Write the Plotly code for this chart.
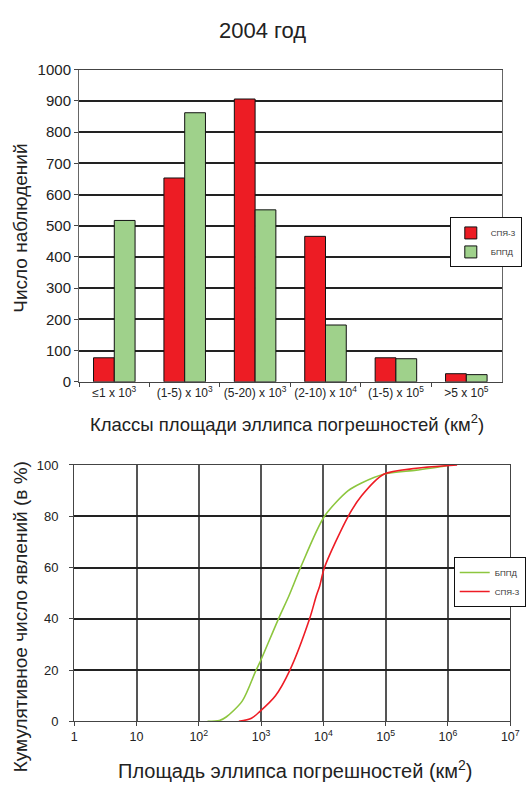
import plotly.graph_objects as go

# --- bar chart data: counts per error-ellipse area class ---
classes = ["≤1 x 10<sup>3</sup>", "(1-5) x 10<sup>3</sup>", "(5-20) x 10<sup>3</sup>",
           "(2-10) x 10<sup>4</sup>", "(1-5) x 10<sup>5</sup>", ">5 x 10<sup>5</sup>"]
spya3_counts = [77, 653, 906, 466, 77, 26]
bppd_counts = [517, 862, 551, 182, 74, 23]

# --- cumulative distribution data (area in km², cumulative %) ---
bppd_area = [138, 214, 275, 500, 830, 955, 1900, 2800, 4300, 10400, 25000, 41000, 93000, 310000, 890000, 1000000]
bppd_cum = [0, 0.3, 1.7, 8, 20, 23, 40, 49, 60, 80, 90, 93, 96.4, 98, 99.6, 100]
spya3_area = [440, 700, 950, 1700, 2900, 6000, 7700, 8700, 10400, 25000, 41000, 93000, 310000, 1400000]
spya3_cum = [0, 1.2, 3.8, 10, 20, 40, 49, 52.7, 60, 80, 88, 96.4, 98.7, 100]

x_ticks = [1, 10, 100, 1e3, 1e4, 1e5, 1e6, 1e7]
x_ticktext = ["1", "10", "10<sup>2</sup>", "10<sup>3</sup>", "10<sup>4</sup>",
              "10<sup>5</sup>", "10<sup>6</sup>", "10<sup>7</sup>"]

RED = "#ED1C24"
GREEN = "#9FD18B"
LINE_GREEN = "#8DC63F"
LINE_RED = "#EE1C25"
FONT = "Arial, Liberation Sans, sans-serif"
TXT = "#222"
W, H = 532, 792

fig = go.Figure()

fig.add_trace(go.Bar(x=classes, y=spya3_counts, name="СПЯ-3",
                     marker=dict(color=RED, line=dict(color="#111", width=1)),
                     xaxis="x", yaxis="y", legend="legend"))
fig.add_trace(go.Bar(x=classes, y=bppd_counts, name="БППД",
                     marker=dict(color=GREEN, line=dict(color="#111", width=1)),
                     xaxis="x", yaxis="y", legend="legend"))

fig.add_trace(go.Scatter(x=bppd_area, y=bppd_cum, name="БППД", mode="lines",
                         line=dict(color=LINE_GREEN, width=1.6, shape="spline", smoothing=0.8),
                         xaxis="x2", yaxis="y2", legend="legend2"))
fig.add_trace(go.Scatter(x=spya3_area, y=spya3_cum, name="СПЯ-3", mode="lines",
                         line=dict(color=LINE_RED, width=1.6, shape="spline", smoothing=0.8),
                         xaxis="x2", yaxis="y2", legend="legend2"))


def px_x(a, b):
    return [a / W, b / W]


def px_y(top, bottom):
    return [1 - bottom / H, 1 - top / H]


fig.update_layout(
    width=W, height=H,
    margin=dict(l=0, r=0, t=0, b=0),
    paper_bgcolor="white", plot_bgcolor="white",
    font=dict(family=FONT, color=TXT),
    barmode="group", bargap=0.41, bargroupgap=0,
    showlegend=True,
    xaxis=dict(domain=px_x(78, 511), anchor="y", type="category",
               tickson="boundaries", ticks="outside", ticklen=4, tickcolor="#444",
               tickangle=0,
               showline=True, linecolor="#444", linewidth=1.2, mirror=True,
               showgrid=False, tickfont=dict(family=FONT, size=12, color=TXT)),
    yaxis=dict(domain=px_y(62, 381), anchor="x", range=[0, 1000], dtick=100,
               ticks="outside", ticklen=4, tickcolor="#444",
               showline=True, linecolor="#666", linewidth=1.2, mirror=True,
               showgrid=True, gridcolor="#222", gridwidth=1.5, zeroline=False,
               tickfont=dict(family=FONT, size=15, color=TXT)),
    xaxis2=dict(domain=px_x(73, 520), anchor="y2", type="log", range=[0, 7],
                tickvals=x_ticks, ticktext=x_ticktext, tickangle=0,
                ticks="outside", ticklen=4, tickcolor="#444",
                showline=True, linecolor="#444", linewidth=1.2, mirror=True,
                showgrid=True, gridcolor="#555", gridwidth=1.5,
                tickfont=dict(family=FONT, size=12.5, color=TXT)),
    yaxis2=dict(domain=px_y(466, 728), anchor="x2", range=[0, 100], dtick=20,
                ticks="outside", ticklen=4, tickcolor="#444", ticklabelstandoff=8,
                showline=True, linecolor="#444", linewidth=1.2, mirror=True,
                showgrid=True, gridcolor="#222", gridwidth=1.5, zeroline=False,
                tickfont=dict(family=FONT, size=13, color=TXT)),
    legend=dict(x=458 / W, y=1 - 213 / H, xanchor="left", yanchor="top",
                bgcolor="white", bordercolor="#111", borderwidth=1,
                font=dict(family=FONT, size=8, color="#333"),
                itemwidth=30, tracegroupgap=0),
    legend2=dict(x=462 / W, y=1 - 560 / H, xanchor="left", yanchor="top",
                 bgcolor="white", bordercolor="#111", borderwidth=1,
                 font=dict(family=FONT, size=8, color="#333"),
                 itemwidth=30, tracegroupgap=0),
)

ann = [
    dict(text="2004 год", x=266 / W, y=1 - 22 / H, font=dict(size=22)),
    dict(text="Число наблюдений", x=18 / W, y=1 - 224 / H, textangle=-90, font=dict(size=19)),
    dict(text="Классы площади эллипса погрешностей (км<sup>2</sup>)", x=291 / W, y=1 - 423 / H,
         font=dict(size=18.5)),
    dict(text="Кумулятивное число явлений (в %)", x=18 / W, y=1 - 621 / H, textangle=-90,
         font=dict(size=19)),
    dict(text="Площадь эллипса погрешностей (км<sup>2</sup>)", x=300 / W, y=1 - 777 / H,
         font=dict(size=20)),
]
for a in ann:
    a.update(xref="paper", yref="paper", showarrow=False, xanchor="center", yanchor="middle")
    a["font"].update(family=FONT, color=TXT)
fig.update_layout(annotations=ann)

fig.write_html("out.html")
